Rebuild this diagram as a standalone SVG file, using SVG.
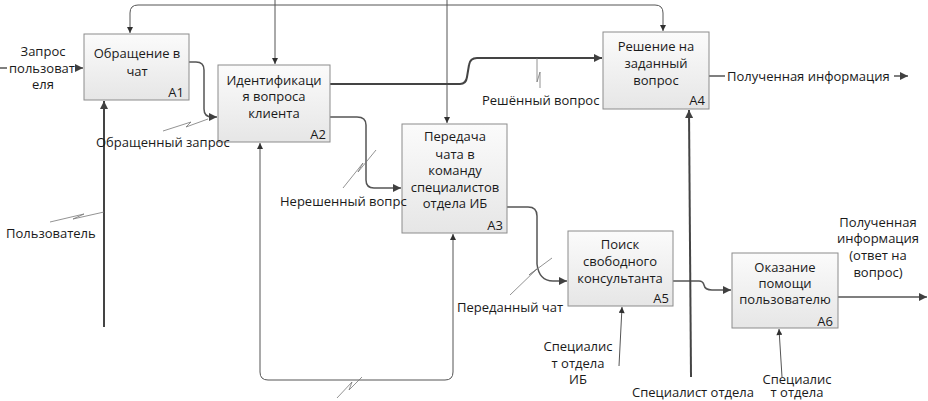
<svg xmlns="http://www.w3.org/2000/svg" width="928" height="401" viewBox="0 0 928 401">
<defs>
<linearGradient id="bg" x1="0" y1="0" x2="0" y2="1">
<stop offset="0" stop-color="#fbfbfb"/>
<stop offset="1" stop-color="#e6e6e6"/>
</linearGradient>
<marker id="ah" viewBox="0 0 10 10" refX="10" refY="5" markerWidth="9" markerHeight="8" markerUnits="userSpaceOnUse" orient="auto">
<path d="M0,0 L10,5 L0,10 Z" fill="#404040"/>
</marker>
<marker id="as" viewBox="0 0 10 10" refX="10" refY="5" markerWidth="7" markerHeight="6" markerUnits="userSpaceOnUse" orient="auto">
<path d="M0,0 L10,5 L0,10 Z" fill="#303030"/>
</marker>
</defs>
<style>
.box{fill:url(#bg);stroke:#8c8c8c;stroke-width:1}
text{font-family:"Open Sans","Noto Sans","Liberation Sans",sans-serif;font-size:13px;fill:#1a1a1a}
.c{text-anchor:middle}
.r{text-anchor:end}
.thick{fill:none;stroke:#444;stroke-width:2;marker-end:url(#ah)}
.mid{fill:none;stroke:#555;stroke-width:1.5;marker-end:url(#ah)}
.thin{fill:none;stroke:#555;stroke-width:1;marker-end:url(#as)}
.plain{fill:none;stroke:#555;stroke-width:1.5}
.sq{fill:none;stroke:#777;stroke-width:0.8}
</style>

<g id="connectors">
<path class="thin" d="M275,0 L275,64"/>
<path class="thin" d="M447,0 L447,123"/>
<path class="thin" d="M300,5 L138,5 Q130,5 130,13 L130,33"/>
<path class="thin" d="M300,5 L655,5 Q663,5 663,13 L663,31"/>
<path class="plain" d="M0,68 L7,68"/>
<path class="mid" d="M76,68 L83,68"/>
<path class="mid" d="M189,62 L196,62 Q204,62 204,70 L204,109 Q204,117 212,117 L217,117"/>
<path class="thick" d="M104,327 L104,101"/>
<path class="thick" d="M330,84 L460,84 Q466,84 467,77 L469,65 Q470,58 477,58 L602,58"/>
<path class="mid" d="M330,117 L357,117 Q366,117 366,125 L366,180 Q366,188 374,188 L401,188"/>
<path class="mid" d="M507,207 L528,207 Q537,207 537,216 L537,264 Q539,281 553,281 L567,281"/>
<path class="mid" d="M673,281 L699,281 Q703,281 704,285 Q705,290 712,290 L731,290"/>
<path class="mid" d="M838,297 L927,297"/>
<path class="plain" d="M709,76 L725,76"/>
<path class="mid" d="M894,76 L908,76"/>
<path class="thick" d="M691,377 L689,110"/>
<path class="thin" d="M619,366 L622,307"/>
<path class="thin" d="M782,377 L779,329"/>
<path class="thin" d="M357,380 L268,380 Q260,380 260,372 L260,143"/>
<path class="thin" d="M357,380 L445,380 Q453,380 453,372 L453,234"/>
<path class="sq" d="M163,131 L191,122 L186,127 L208,119"/>
<path class="sq" d="M50,222 L84,214 L73,219 L104,212"/>
<path class="sq" d="M537,58 L537,82 L540,72 L540,88"/>
<path class="sq" d="M343,188 L363,163 L358,172 L376,150"/>
<path class="sq" d="M510,295 L538,268 L529,275 L552,258"/>
<path class="sq" d="M337,398 L352,382 L349,390 L362,377"/>
</g>

<g id="A1">
<rect class="box" x="84" y="34" width="105" height="66"/>
<text class="c" x="137" y="58">Обращение в</text>
<text class="c" x="137" y="76">чат</text>
<text class="r" x="184" y="97">A1</text>
</g>
<g id="A2">
<rect class="box" x="218" y="65" width="112" height="77"/>
<text class="c" x="274" y="85">Идентификаци</text>
<text class="c" x="274" y="101">я вопроса</text>
<text class="c" x="274" y="118">клиента</text>
<text class="r" x="326" y="139">A2</text>
</g>
<g id="A3">
<rect class="box" x="402" y="124" width="105" height="109"/>
<text class="c" x="455" y="141">Передача</text>
<text class="c" x="455" y="159">чата в</text>
<text class="c" x="455" y="175">команду</text>
<text class="c" x="455" y="192">специалистов</text>
<text class="c" x="455" y="208">отдела ИБ</text>
<text class="r" x="503" y="230">A3</text>
</g>
<g id="A4">
<rect class="box" x="603" y="32" width="106" height="77"/>
<text class="c" x="656" y="51">Решение на</text>
<text class="c" x="656" y="68">заданный</text>
<text class="c" x="656" y="85">вопрос</text>
<text class="r" x="705" y="105">A4</text>
</g>
<g id="A5">
<rect class="box" x="568" y="231" width="105" height="75"/>
<text class="c" x="620" y="249">Поиск</text>
<text class="c" x="620" y="266">свободного</text>
<text class="c" x="620" y="283">консультанта</text>
<text class="r" x="669" y="303">A5</text>
</g>
<g id="A6">
<rect class="box" x="732" y="253" width="106" height="75"/>
<text class="c" x="785" y="272">Оказание</text>
<text class="c" x="785" y="288">помощи</text>
<text class="c" x="785" y="304">пользователю</text>
<text class="r" x="833" y="326">A6</text>
</g>

<g id="labels">
<text class="c" x="43" y="56">Запрос</text>
<text class="c" x="42" y="73">пользоват</text>
<text class="c" x="43" y="89">еля</text>
<text x="96" y="147">Обращенный запрос</text>
<text x="6" y="238">Пользователь</text>
<text x="482" y="105">Решённый вопрос</text>
<text x="280" y="206">Нерешенный вопрс</text>
<text x="457" y="312">Переданный чат</text>
<text class="c" x="578" y="351">Специалис</text>
<text class="c" x="578" y="368">т отдела</text>
<text class="c" x="578" y="384">ИБ</text>
<text x="632" y="397">Специалист отдела</text>
<text class="c" x="797" y="384">Специалис</text>
<text class="c" x="797" y="397">т отдела</text>
<text x="727" y="81">Полученная информация</text>
<text class="c" x="878" y="227">Полученная</text>
<text class="c" x="878" y="243">информация</text>
<text class="c" x="878" y="260">(ответ на</text>
<text class="c" x="878" y="277">вопрос)</text>
</g>
</svg>
